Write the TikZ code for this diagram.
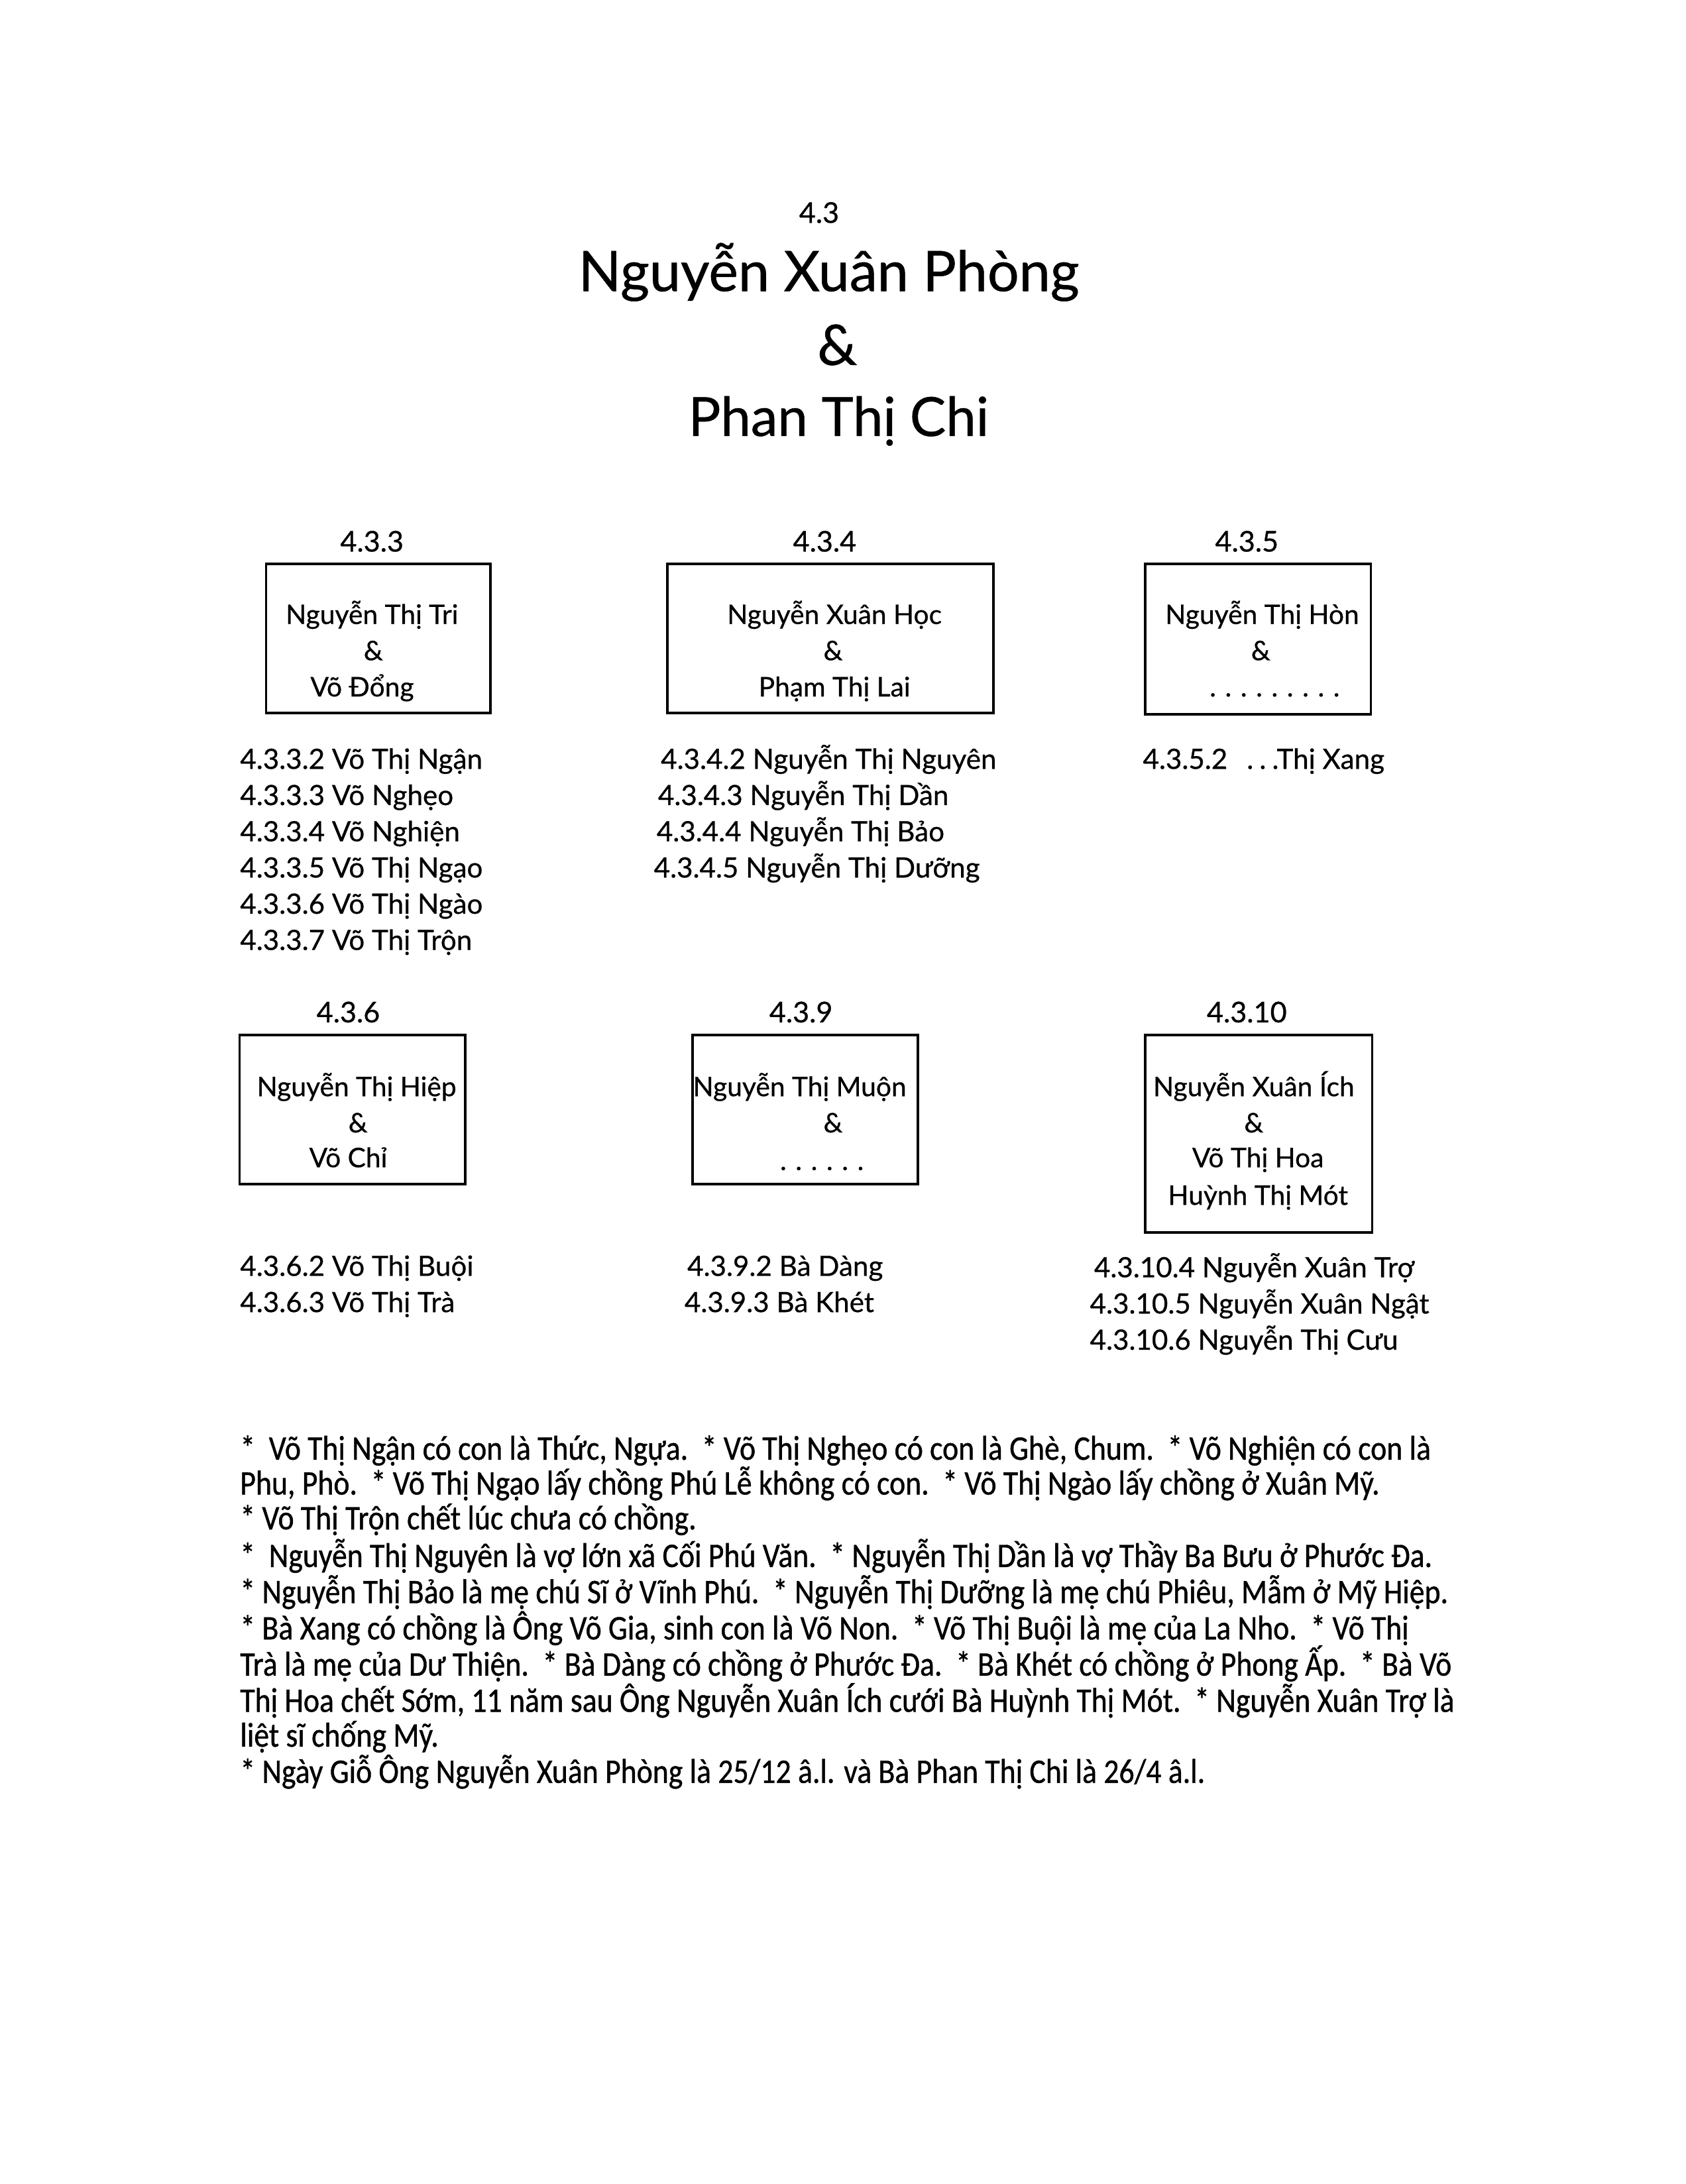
\documentclass[tikz,border=0pt]{standalone}
\usepackage{fontspec}
\setmainfont[FakeBold=0.6]{Lato}
\newfontfamily\notefont[FakeStretch=0.88,FakeBold=0.8]{Carlito}
\usetikzlibrary{fit}
\newcommand\dotrow[1]{.\foreach \i in {2,...,#1}{\hspace{3.3pt}.}}
\begin{document}
\begin{tikzpicture}[x=0.5058pt,y=-0.5058pt,
  ttl/.style={font=\fontsize{20.3}{24}\selectfont, anchor=base, inner sep=0},
  lbl/.style={font=\fontsize{10.4}{13}\selectfont, anchor=base, inner sep=0},
  bt/.style={font=\fontsize{9.8}{13}\selectfont, anchor=base, inner sep=0},
  item/.style={font=\fontsize{10.15}{13}\selectfont, anchor=base west, inner sep=0},
  note/.style={font=\notefont\fontsize{12.5}{14}\selectfont, anchor=base west, inner sep=0},
  fambox/.style={draw, line width=0.9pt, inner sep=0}]
\useasboundingbox (0,0) rectangle (1210,1568);
\fill[white] (0,0) rectangle (1210,1568);

% title
\node[lbl] (num) at (588,160) {4.3};
\node[ttl] (t1) at (595,209) {Nguyễn Xuân Phòng};
\node[ttl] (t2) at (601,262) {\&};
\node[ttl, font=\fontsize{19.6}{24}\selectfont] (t3) at (602,313) {Phan Thị Chi};

% row 1 labels
\node[lbl] (l433) at (267,396) {4.3.3};
\node[lbl] (l434) at (592,396) {4.3.4};
\node[lbl] (l435) at (895,396) {4.3.5};

% row 1 boxes
\node[fambox, fit={(191,405) (352,512)}] (b433) {};
\node[fambox, fit={(479,405) (713,512)}] (b434) {};
\node[fambox, fit={(822,405) (984,513)}] (b435) {};

\node[bt] (b433a) at (267,448) {Nguyễn Thị Tri};
\node[bt] (b433b) at (268,474) {\&};
\node[bt] (b433c) at (260,500) {Võ Đổng};

\node[bt] (b434a) at (599,448) {Nguyễn Xuân Học};
\node[bt] (b434b) at (598,474) {\&};
\node[bt] (b434c) at (599,500) {Phạm Thị Lai};

\node[bt] (b435a) at (906,448) {Nguyễn Thị Hòn};
\node[bt] (b435b) at (905,474) {\&};
\node[bt] (b435c) at (915,500) {\dotrow{9}};

% row 1 lists
\node[item] (c4332) at (172,552) {4.3.3.2 Võ Thị Ngận};
\node[item] (c4333) at (172,578) {4.3.3.3 Võ Nghẹo};
\node[item] (c4334) at (172,604) {4.3.3.4 Võ Nghiện};
\node[item] (c4335) at (172,630) {4.3.3.5 Võ Thị Ngạo};
\node[item] (c4336) at (172,656) {4.3.3.6 Võ Thị Ngào};
\node[item] (c4337) at (172,682) {4.3.3.7 Võ Thị Trộn};

\node[item] (c4342) at (474,552) {4.3.4.2 Nguyễn Thị Nguyên};
\node[item] (c4343) at (472,578) {4.3.4.3 Nguyễn Thị Dần};
\node[item] (c4344) at (471,604) {4.3.4.4 Nguyễn Thị Bảo};
\node[item] (c4345) at (469,630) {4.3.4.5 Nguyễn Thị Dưỡng};

\node[item] (c4352) at (820,552) {4.3.5.2\hspace{7pt}.\hspace{2.2pt}.\hspace{2.2pt}.Thị Xang};

% row 2 labels
\node[lbl] (l436) at (250,734) {4.3.6};
\node[lbl] (l439) at (575,734) {4.3.9};
\node[lbl] (l4310) at (895,734) {4.3.10};

% row 2 boxes
\node[fambox, fit={(172,743) (334,850)}] (b436) {};
\node[fambox, fit={(497,743) (659,850)}] (b439) {};
\node[fambox, fit={(822,743) (985,885)}] (b4310) {};

\node[bt] (b436a) at (256,787) {Nguyễn Thị Hiệp};
\node[bt] (b436b) at (257,813) {\&};
\node[bt] (b436c) at (250,838) {Võ Chỉ};

\node[bt] (b439a) at (574,787) {Nguyễn Thị Muộn};
\node[bt] (b439b) at (598,813) {\&};
\node[bt] (b439c) at (590,840) {\dotrow{6}};

\node[bt] (b4310a) at (900,787) {Nguyễn Xuân Ích};
\node[bt] (b4310b) at (900,813) {\&};
\node[bt] (b4310c) at (903,838) {Võ Thị Hoa};
\node[bt] (b4310d) at (903,865) {Huỳnh Thị Mót};

% row 2 lists
\node[item] (c4362) at (172,916) {4.3.6.2 Võ Thị Buội};
\node[item] (c4363) at (172,942) {4.3.6.3 Võ Thị Trà};

\node[item] (c4392) at (493,916) {4.3.9.2 Bà Dàng};
\node[item] (c4393) at (491,942) {4.3.9.3 Bà Khét};

\node[item] (c43104) at (785,917) {4.3.10.4 Nguyễn Xuân Trợ};
\node[item] (c43105) at (782,943) {4.3.10.5 Nguyễn Xuân Ngật};
\node[item] (c43106) at (782,969) {4.3.10.6 Nguyễn Thị Cưu};

% notes
\node[note] (n1) at (172,1048) {*\ \ Võ Thị Ngận có con là Thức, Ngựa.\ \ * Võ Thị Nghẹo có con là Ghè, Chum.\ \ * Võ Nghiện có con là};
\node[note] (n2) at (172,1073) {Phu, Phò.\ \ * Võ Thị Ngạo lấy chồng Phú Lễ không có con.\ \ * Võ Thị Ngào lấy chồng ở Xuân Mỹ.};
\node[note] (n3) at (172,1098) {* Võ Thị Trộn chết lúc chưa có chồng.};
\node[note] (n4) at (172,1125) {*\ \ Nguyễn Thị Nguyên là vợ lớn xã Cối Phú Văn.\ \ * Nguyễn Thị Dần là vợ Thầy Ba Bưu ở Phước Đa.};
\node[note] (n5) at (172,1151) {* Nguyễn Thị Bảo là mẹ chú Sĩ ở Vĩnh Phú.\ \ * Nguyễn Thị Dưỡng là mẹ chú Phiêu, Mẫm ở Mỹ Hiệp.};
\node[note] (n6) at (172,1177) {* Bà Xang có chồng là Ông Võ Gia, sinh con là Võ Non.\ \ * Võ Thị Buội là mẹ của La Nho.\ \ * Võ Thị};
\node[note] (n7) at (172,1203) {Trà là mẹ của Dư Thiện.\ \ * Bà Dàng có chồng ở Phước Đa.\ \ * Bà Khét có chồng ở Phong Ấp.\ \ * Bà Võ};
\node[note] (n8) at (172,1229) {Thị Hoa chết Sớm, 11 năm sau Ông Nguyễn Xuân Ích cưới Bà Huỳnh Thị Mót.\ \ * Nguyễn Xuân Trợ là};
\node[note] (n9) at (172,1254) {liệt sĩ chống Mỹ.};
\node[note] (n10) at (172,1280) {* Ngày Giỗ Ông Nguyễn Xuân Phòng là 25/12 â.l. và Bà Phan Thị Chi là 26/4 â.l.};
\end{tikzpicture}
\end{document}
